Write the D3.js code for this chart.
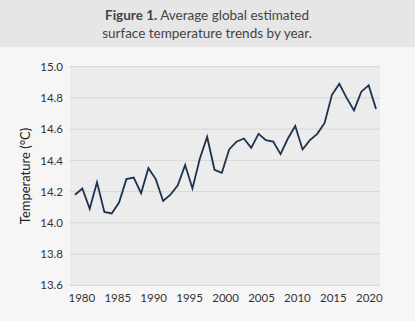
<!DOCTYPE html>
<html>
<head>
<meta charset="utf-8">
<script src="https://cdn.jsdelivr.net/npm/d3@7"></script>
<style>
  html, body { margin: 0; padding: 0; background: #f6f6f6; }
  svg { display: block; font-family: Lato, "Open Sans", sans-serif; }
</style>
</head>
<body>
<svg id="chart" width="415" height="321"></svg>
<script>
const years = [1980,1981,1982,1983,1984,1985,1986,1987,1988,1989,1990,1991,1992,1993,1994,1995,1996,1997,1998,1999,2000,2001,2002,2003,2004,2005,2006,2007,2008,2009,2010,2011,2012,2013,2014,2015,2016,2017,2018,2019,2020,2021];
const temps = [14.18,14.22,14.09,14.26,14.07,14.06,14.13,14.28,14.29,14.19,14.35,14.28,14.14,14.18,14.24,14.37,14.22,14.41,14.55,14.34,14.32,14.47,14.52,14.54,14.48,14.57,14.53,14.52,14.44,14.54,14.62,14.47,14.53,14.57,14.64,14.82,14.89,14.80,14.72,14.84,14.88,14.73];
const yTicks = [13.6,13.8,14.0,14.2,14.4,14.6,14.8,15.0];
const xTicks = [1980,1985,1990,1995,2000,2005,2010,2015,2020];
const titleBold = "Figure 1.";
const titleLine1 = " Average global estimated";
const titleLine2 = "surface temperature trends by year.";
const yTitle = "Temperature (°C)";

const svg = d3.select("#chart");
const W = 415, H = 321;
const plot = {left: 70, right: 380, top: 66.7, bottom: 285.3};

// header band
svg.append("rect").attr("x",0).attr("y",0).attr("width",W).attr("height",47).attr("fill","#e6e6e6");
const t1 = svg.append("text").attr("x", W/2 - 0.5).attr("y", 20).attr("text-anchor","middle")
  .attr("font-size", 13.5).attr("fill","#444");
t1.append("tspan").attr("font-weight","bold").text(titleBold);
t1.append("tspan").text(titleLine1);
svg.append("text").attr("x", W/2 - 0.5).attr("y", 38).attr("text-anchor","middle")
  .attr("font-size", 13.5).attr("fill","#444").text(titleLine2);

// plot background
svg.append("rect").attr("x",plot.left).attr("y",plot.top)
  .attr("width",plot.right-plot.left).attr("height",plot.bottom-plot.top).attr("fill","#ececec");

const x = d3.scaleLinear().domain([1980, 2021]).range([75, 376]);
const xAxisScale = d3.scaleLinear().domain([1980, 2020]).range([81.3, 368.8]);
const y = d3.scaleLinear().domain([13.6, 15.0]).range([plot.bottom, plot.top]);

// gridlines
svg.append("g").selectAll("line").data(yTicks).join("line")
  .attr("x1", plot.left).attr("x2", plot.right)
  .attr("y1", d => y(d)).attr("y2", d => y(d))
  .attr("stroke", "#d9d9d9").attr("stroke-width", 1.2);

// y axis labels
const yAxis = d3.axisLeft(y).tickValues(yTicks).tickFormat(d3.format(".1f")).tickSize(0).tickPadding(7);
const gy = svg.append("g").attr("transform", `translate(${plot.left},0)`).call(yAxis);
gy.select(".domain").remove();
gy.selectAll("text").attr("font-size", 11.5).attr("fill", "#333").attr("font-family", "Lato, sans-serif");

// x axis labels
const xAxis = d3.axisBottom(xAxisScale).tickValues(xTicks).tickFormat(d3.format("d")).tickSize(0).tickPadding(9);
const gx = svg.append("g").attr("transform", `translate(0,${plot.bottom})`).call(xAxis);
gx.select(".domain").remove();
gx.selectAll("text").attr("font-size", 11.5).attr("fill", "#333").attr("font-family", "Lato, sans-serif");

// y title
svg.append("text").attr("transform", `translate(30,176) rotate(-90)`).attr("text-anchor","middle")
  .attr("font-size", 13).attr("fill","#222").text(yTitle);

// line
const line = d3.line().x((d,i) => x(years[i])).y(d => y(d));
svg.append("path").datum(temps).attr("d", line)
  .attr("fill","none").attr("stroke","#1b3250").attr("stroke-width",1.8).attr("stroke-linejoin","miter");
</script>
</body>
</html>
